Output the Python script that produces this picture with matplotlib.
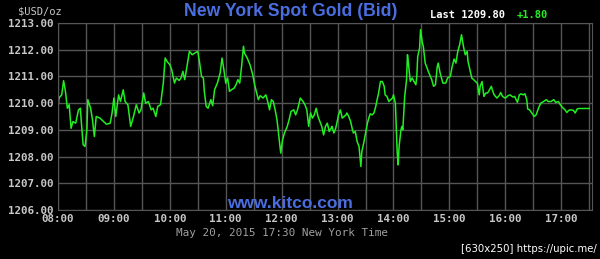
import numpy as np
import matplotlib.pyplot as plt

# minutes after 08:00 and bid prices (10 per row)
minutes = [0, 1, 4, 6, 8, 10, 12, 14, 16, 19,
           22, 24, 25, 27, 29, 31, 32, 35, 37, 39,
           41, 45, 49, 52, 56, 58, 60, 62, 65, 67,
           70, 72, 75, 78, 81, 84, 87, 89, 92, 94,
           97, 100, 102, 105, 107, 110, 113, 115, 117, 120,
           122, 125, 127, 130, 132, 134, 136, 139, 141, 144,
           147, 150, 152, 154, 156, 157, 159, 161, 164, 166,
           168, 171, 174, 176, 178, 180, 182, 184, 186, 189,
           191, 193, 195, 197, 199, 200, 203, 206, 209, 211,
           215, 217, 220, 223, 225, 227, 229, 231, 233, 235,
           237, 239, 241, 243, 246, 248, 250, 253, 255, 257,
           260, 263, 265, 267, 269, 271, 273, 275, 277, 279,
           281, 283, 285, 287, 289, 291, 293, 294, 296, 298,
           300, 301, 303, 305, 307, 309, 310, 312, 314, 316,
           317, 319, 321, 323, 325, 326, 328, 330, 332, 334,
           335, 337, 339, 341, 342, 344, 346, 348, 350, 351,
           353, 355, 357, 359, 360, 362, 364, 365, 366, 368,
           369, 370, 372, 374, 375, 376, 378, 380, 382, 384,
           385, 386, 388, 389, 391, 392, 394, 396, 398, 401,
           403, 405, 407, 408, 410, 413, 416, 418, 421, 423,
           425, 427, 429, 431, 433, 435, 437, 439, 440, 442,
           444, 446, 448, 450, 452, 453, 455, 457, 459, 461,
           463, 465, 466, 468, 471, 474, 475, 477, 480, 483,
           485, 488, 490, 493, 495, 497, 499, 501, 503, 504,
           506, 508, 511, 513, 515, 516, 518, 521, 524, 526,
           529, 532, 534, 537, 539, 541, 544, 546, 548, 550,
           553, 555, 557, 559, 563, 566, 570]
prices = [1209.81, 1210.19, 1210.31, 1210.84, 1210.44, 1209.81, 1209.94, 1209.06, 1209.31, 1209.25,
          1209.75, 1209.81, 1209.31, 1208.44, 1208.38, 1209.00, 1210.13, 1209.81, 1209.38, 1208.75,
          1209.50, 1209.44, 1209.31, 1209.21, 1209.25, 1209.63, 1210.19, 1209.50, 1210.31, 1210.06,
          1210.50, 1210.06, 1209.94, 1209.13, 1209.50, 1209.94, 1209.63, 1209.75, 1210.38, 1210.00,
          1210.06, 1209.75, 1209.81, 1209.50, 1209.88, 1209.94, 1210.75, 1211.69, 1211.56, 1211.44,
          1211.25, 1210.75, 1210.94, 1210.85, 1210.94, 1211.19, 1210.88, 1211.50, 1211.94, 1211.81,
          1211.88, 1211.94, 1211.50, 1211.00, 1210.94, 1210.44, 1209.88, 1209.81, 1210.13, 1209.90,
          1210.50, 1210.75, 1211.13, 1211.69, 1211.25, 1210.75, 1210.94, 1210.44, 1210.50, 1210.56,
          1210.69, 1210.88, 1210.75, 1211.38, 1212.13, 1211.88, 1211.69, 1211.44, 1211.06, 1210.69,
          1210.13, 1210.28, 1210.19, 1210.31, 1210.06, 1209.75, 1210.13, 1210.06, 1209.75, 1209.38,
          1208.75, 1208.13, 1208.63, 1208.88, 1209.13, 1209.38, 1209.69, 1209.75, 1209.56, 1209.75,
          1210.19, 1210.06, 1209.94, 1209.75, 1209.13, 1209.63, 1209.44, 1209.56, 1209.81, 1209.50,
          1209.31, 1209.13, 1208.81, 1209.13, 1209.25, 1208.94, 1209.06, 1209.13, 1208.88, 1209.06,
          1209.38, 1209.56, 1209.75, 1209.44, 1209.50, 1209.56, 1209.63, 1209.50, 1209.31, 1209.00,
          1208.88, 1208.94, 1208.56, 1208.38, 1207.63, 1208.19, 1208.50, 1208.88, 1209.25, 1209.50,
          1209.60, 1209.56, 1209.63, 1209.88, 1210.06, 1210.38, 1210.81, 1210.81, 1210.63, 1210.31,
          1210.25, 1210.06, 1210.13, 1210.19, 1210.31, 1210.00, 1208.13, 1207.69, 1208.38, 1209.00,
          1209.13, 1209.00, 1210.25, 1210.88, 1211.81, 1211.50, 1210.81, 1210.94, 1210.81, 1210.69,
          1211.00, 1211.75, 1212.06, 1212.75, 1212.25, 1212.13, 1211.50, 1211.31, 1211.13, 1210.88,
          1210.63, 1210.69, 1211.38, 1211.50, 1211.13, 1210.75, 1210.75, 1210.94, 1211.00, 1211.38,
          1211.65, 1211.50, 1211.94, 1212.19, 1212.56, 1212.13, 1211.81, 1211.94, 1211.56, 1211.25,
          1210.94, 1210.88, 1210.81, 1210.75, 1210.31, 1210.63, 1210.81, 1210.25, 1210.38, 1210.38,
          1210.50, 1210.63, 1210.50, 1210.31, 1210.19, 1210.31, 1210.40, 1210.25, 1210.19, 1210.28,
          1210.31, 1210.23, 1210.25, 1210.03, 1210.31, 1210.35, 1210.31, 1210.35, 1210.13, 1209.78,
          1209.75, 1209.65, 1209.50, 1209.56, 1209.75, 1209.85, 1210.00, 1210.06, 1210.13, 1210.06,
          1210.06, 1210.13, 1210.03, 1210.06, 1209.94, 1209.85, 1209.75, 1209.65, 1209.73, 1209.75,
          1209.73, 1209.63, 1209.78, 1209.80, 1209.80, 1209.80, 1209.80]
y_ticks = [1206, 1207, 1208, 1209, 1210, 1211, 1212, 1213]
x_tick_labels = ["08:00", "09:00", "10:00", "11:00", "12:00", "13:00", "14:00", "15:00", "16:00", "17:00"]
last_price = 1209.80
change = 1.80

hours = 8 + np.array(minutes) / 60

mono = 'DejaVu Sans Mono'
tick_col = '#c8c8c8'

fig = plt.figure(figsize=(6, 2.59), dpi=100, facecolor='black')
ax = fig.add_axes([58/600, 1 - 210/259, 534/600, 187/259])
ax.set_facecolor('black')

ax.plot(hours, prices, color='#22ee22', lw=1.1)

ax.set_xlim(8, 17.55)
ax.set_ylim(1206, 1213)
ax.set_yticks(y_ticks)
ax.set_yticklabels(['%.2f' % v for v in y_ticks], family=mono, fontsize=7.8,
                   color=tick_col, fontweight='bold')
ax.set_xticks(np.arange(8, 17.5, 1))
ax.set_xticklabels(x_tick_labels, family=mono, fontsize=7.8, color=tick_col, fontweight='bold')
ax.set_xticks(np.arange(8.5, 17.6, 1), minor=True)
ax.tick_params(which='both', length=0, pad=3)
ax.grid(which='both', color='#555555', lw=1.0)
ax.set_axisbelow(True)
for s in ax.spines.values():
    s.set_color('#555555')

fig.text(18/600, 1 - 11/259, '$USD/oz', family=mono, fontsize=7.5, color=tick_col,
         va='center', ha='left')
fig.text(291/600, 1 - 12/259, 'New York Spot Gold (Bid)', family='Liberation Sans',
         fontsize=12.7, fontweight='bold', color='#4a6ee0', ha='center', va='center')
fig.text(430/600, 1 - 15/259, 'Last %.2f' % last_price, family=mono, fontsize=7.5,
         fontweight='bold', color='white', ha='left', va='center')
fig.text(517/600, 1 - 15/259, '+%.2f' % change, family=mono, fontsize=7.5,
         fontweight='bold', color='#22ee22', ha='left', va='center')
fig.text(290/600, 1 - 203/259, 'www.kitco.com', family='Liberation Sans', fontsize=12.5,
         fontweight='bold', color='#4a6ee0', ha='center', va='center')
fig.text(282/600, 1 - 233/259, 'May 20, 2015 17:30 New York Time', family=mono,
         fontsize=7.9, color='#a0a0a0', ha='center', va='center')
fig.text(597/600, 1 - 249/259, '[630x250] https://upic.me/', family='DejaVu Sans',
         fontsize=7.3, color='white', ha='right', va='center')

fig.savefig('out.png', dpi=100, facecolor='black')
